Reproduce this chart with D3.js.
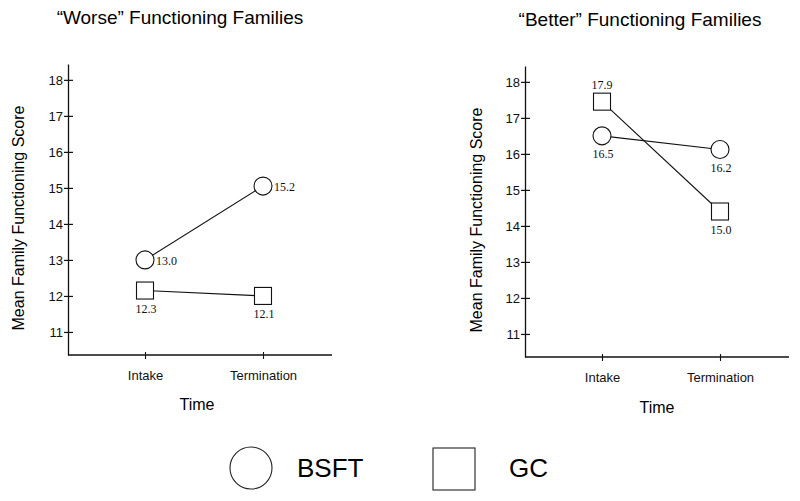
<!DOCTYPE html>
<html>
<head>
<meta charset="utf-8">
<script src="https://cdn.jsdelivr.net/npm/d3@7"></script>
<style>
  html, body { margin: 0; padding: 0; background: #fff; }
  svg { display: block; }
</style>
</head>
<body>
<svg id="chart" width="800" height="501"></svg>
<script>
// ---- Data ----
const categories = ["Intake", "Termination"];
const panelTitles = ["\u201CWorse\u201D Functioning Families", "\u201CBetter\u201D Functioning Families"];
const seriesNames = ["BSFT", "GC"];
const yTicks = [11, 12, 13, 14, 15, 16, 17, 18];

// plotted positions
const worseBSFT = [13.0, 15.05];
const worseGC = [12.15, 12.0];
const betterBSFT = [16.5, 16.12];
const betterGC = [17.45, 14.4];

// printed value labels
const worseBSFTLabels = ["13.0", "15.2"];
const worseGCLabels = ["12.3", "12.1"];
const betterBSFTLabels = ["16.5", "16.2"];
const betterGCLabels = ["17.9", "15.0"];

const yAxisTitle = "Mean Family Functioning Score";
const xAxisTitle = "Time";

// ---- Layout ----
const svg = d3.select("#chart");
const sans = "Arial, 'Liberation Sans', Helvetica, sans-serif";
const serif = "'Times New Roman', 'Liberation Serif', serif";

const panels = [
  { title: panelTitles[0], ox: 68, oy: 0, titleX: 180, titleY: 24, yTitleX: 24, timeX: 197, timeY: 410,
    series: [
      { name: "BSFT", values: worseBSFT, labels: worseBSFTLabels, place: ["right", "right"] },
      { name: "GC", values: worseGC, labels: worseGCLabels, place: ["below", "below"] }
    ] },
  { title: panelTitles[1], ox: 525, oy: 2, titleX: 640, titleY: 26, yTitleX: 482, timeX: 657, timeY: 413,
    series: [
      { name: "BSFT", values: betterBSFT, labels: betterBSFTLabels, place: ["below", "below"] },
      { name: "GC", values: betterGC, labels: betterGCLabels, place: ["above", "below"] }
    ] }
];

const axisLen = 264;
const r = 9;
const sq = 17;

panels.forEach(p => {
  const g = svg.append("g").attr("transform", `translate(${p.ox},${p.oy})`);
  const y = d3.scaleLinear().domain([10.36, 18.44]).range([355, 64]);
  const x = d3.scalePoint().domain(categories).range([77, 195]).padding(0);

  // title
  svg.append("text")
    .attr("x", p.titleX).attr("y", p.titleY)
    .attr("text-anchor", "middle")
    .style("font-family", sans).style("font-size", "19px")
    .text(p.title);

  // y axis
  const yAxis = d3.axisLeft(y).tickValues(yTicks).tickSize(4).tickSizeOuter(0).tickPadding(3)
    .tickFormat(d3.format("d"));
  const ya = g.append("g").call(yAxis);
  ya.select(".domain").attr("stroke", "#111").attr("stroke-width", 1.3);
  ya.selectAll(".tick line").attr("x1", 5).attr("x2", -4).attr("stroke", "#111").attr("stroke-width", 1.2);
  ya.selectAll(".tick text").attr("x", -5).attr("dy", "0.35em")
    .style("font-family", sans).style("font-size", "13px").attr("fill", "#111");

  // x axis
  const xAxis = d3.axisBottom(x).tickSize(0).tickSizeOuter(0);
  const xa = g.append("g").attr("transform", `translate(0,${y(10.36)})`).call(xAxis);
  xa.select(".domain").remove();
  xa.append("line").attr("x1", 0).attr("x2", axisLen).attr("y1", 0).attr("y2", 0)
    .attr("stroke", "#111").attr("stroke-width", 1.3);
  xa.selectAll(".tick line").attr("y1", -3).attr("y2", 4).attr("stroke", "#111").attr("stroke-width", 1.1);
  xa.selectAll(".tick text").attr("y", 25).attr("dy", 0)
    .style("font-family", sans).style("font-size", "13px").attr("fill", "#111");

  // axis titles
  svg.append("text")
    .attr("transform", `translate(${p.yTitleX},${218 + p.oy}) rotate(-90)`)
    .attr("text-anchor", "middle")
    .style("font-family", sans).style("font-size", "16px")
    .text(yAxisTitle);
  svg.append("text")
    .attr("x", p.timeX).attr("y", p.timeY)
    .attr("text-anchor", "middle")
    .style("font-family", sans).style("font-size", "16px")
    .text(xAxisTitle);

  const line = d3.line().x((d, i) => x(categories[i])).y(d => y(d));

  // lines first
  p.series.forEach(s => {
    g.append("path").datum(s.values).attr("d", line)
      .attr("fill", "none").attr("stroke", "#111").attr("stroke-width", 1.1);
  });

  // markers and labels
  p.series.forEach(s => {
    s.values.forEach((v, i) => {
      const cx = x(categories[i]), cy = y(v);
      if (s.name === "BSFT") {
        g.append("circle").attr("cx", cx).attr("cy", cy).attr("r", r)
          .attr("fill", "#fff").attr("stroke", "#111").attr("stroke-width", 1.1);
      } else {
        g.append("rect").attr("x", cx - sq / 2).attr("y", cy - sq / 2)
          .attr("width", sq).attr("height", sq)
          .attr("fill", "#fff").attr("stroke", "#111").attr("stroke-width", 1.1);
      }
      const t = g.append("text")
        .style("font-family", serif).style("font-size", "12px").attr("fill", "#111")
        .text(s.labels[i]);
      if (s.place[i] === "right") {
        t.attr("x", cx + 11).attr("y", cy + 5).attr("text-anchor", "start");
      } else if (s.place[i] === "below") {
        t.attr("x", cx + 1).attr("y", cy + 22).attr("text-anchor", "middle");
      } else {
        t.attr("x", cx).attr("y", cy - 13).attr("text-anchor", "middle");
      }
    });
  });
});

// ---- Legend ----
const legend = svg.append("g");
legend.append("circle").attr("cx", 251).attr("cy", 468).attr("r", 21)
  .attr("fill", "#fff").attr("stroke", "#222").attr("stroke-width", 1.1);
legend.append("text").attr("x", 297).attr("y", 477)
  .style("font-family", sans).style("font-size", "26px").text(seriesNames[0]);
legend.append("rect").attr("x", 433).attr("y", 448).attr("width", 42).attr("height", 42)
  .attr("fill", "#fff").attr("stroke", "#222").attr("stroke-width", 1.1);
legend.append("text").attr("x", 509).attr("y", 477)
  .style("font-family", sans).style("font-size", "26px").text(seriesNames[1]);
</script>
</body>
</html>
